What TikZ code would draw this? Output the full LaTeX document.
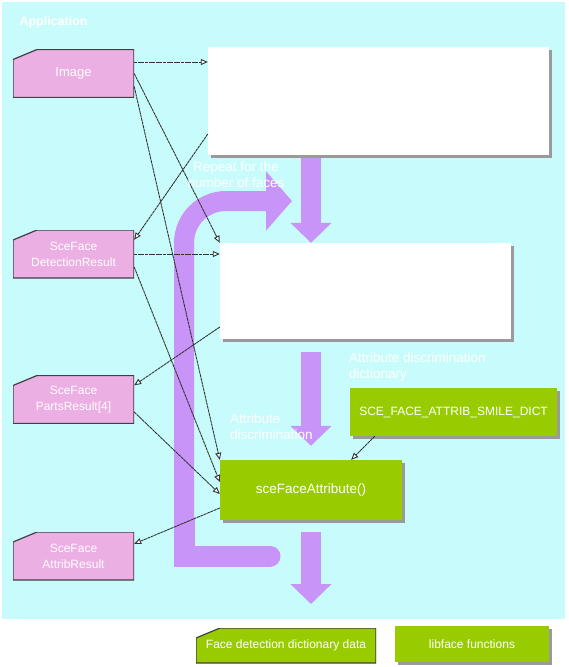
\documentclass[tikz,border=0pt]{standalone}
\usepackage{fontspec}
\setmainfont{Liberation Sans}
\usetikzlibrary{arrows.meta,shadows}

\definecolor{appbg}{HTML}{C8FCFC}
\definecolor{docpink}{HTML}{EBAFE3}
\definecolor{libgreen}{HTML}{99CC00}
\definecolor{flowpurple}{HTML}{C994F7}
\definecolor{shadowgray}{HTML}{9A9A9A}

\tikzset{
  doc/.style={minimum width=121pt, minimum height=48pt, inner sep=0pt, align=center,
    text=white, font=\fontsize{12}{16}\selectfont,
    path picture={\filldraw[fill=#1, draw=black!75, line width=1.2pt]
      (path picture bounding box.south west)
      -- ([yshift=-10pt]path picture bounding box.north west)
      -- ([xshift=24pt]path picture bounding box.north west)
      -- (path picture bounding box.north east)
      -- (path picture bounding box.south east) -- cycle;}},
  doc/.default=docpink,
  panel/.style={fill=white, inner sep=0pt,
    drop shadow={shadow xshift=3pt, shadow yshift=-3pt, fill=shadowgray, opacity=1}},
  lib/.style={fill=libgreen, text=white, inner sep=0pt, font=\fontsize{12}{16}\selectfont,
    drop shadow={shadow xshift=3pt, shadow yshift=-3pt, fill=shadowgray, opacity=1}}
}

\begin{document}
\begin{tikzpicture}[x=1pt, y=-1pt,
  link/.style={draw=black!80, line width=0.9pt, dash pattern=on 3pt off 0.6pt,
    -{Triangle[fill=white, length=7pt, width=6pt]}},
  flow/.style={draw=flowpurple, line width=20pt, -{Triangle[length=20pt, width=40pt]}},
  flowtext/.style={text=white, align=left, inner sep=0pt, font=\fontsize{13.5}{16}\selectfont}]

\useasboundingbox (0,0) rectangle (568,667);
\fill[appbg] (2,2) rectangle (565,619);

\node[anchor=west, text=white, font=\bfseries\fontsize{12.5}{14}\selectfont] (app) at (16,22) {Application};

% data
\node[doc, font=\fontsize{13}{16}\selectfont] (img) at (73.5,73.5) {Image};
\node[doc] (det) at (73.5,254) {SceFace\\DetectionResult};
\node[doc] (parts) at (73.5,399.5) {SceFace\\PartsResult[4]};
\node[doc] (attr) at (73.5,556) {SceFace\\AttribResult};

% stages
\node[panel, minimum width=341pt, minimum height=108pt] (detbox) at (378.5,101) {};
\node[panel, minimum width=291pt, minimum height=96pt] (partbox) at (365.5,291) {};
\node[lib, minimum width=182pt, minimum height=60pt, font=\fontsize{13.5}{16}\selectfont] (func) at (311,490) {sceFaceAttribute()};
\node[lib, minimum width=207pt, minimum height=48pt] (smile) at (453.5,412) {SCE\_FACE\_ATTRIB\_SMILE\_DICT};

% legend
\node[doc=libgreen, minimum width=180pt, minimum height=35pt] (keydict) at (286,645.5) {Face detection dictionary data};
\node[lib, minimum width=154pt, minimum height=36pt] (keyfunc) at (472,644) {libface functions};

% big arrows
\draw[flow] ([yshift=-3pt]detbox.south -| func.north) -- (partbox.north -| func.north);
\draw[flow] ([yshift=-13pt]partbox.south -| func.north) -- ([yshift=14pt]func.north);
\coordinate (done) at (311,604);
\draw[flow] ([yshift=-12pt]func.south) -- (done);

% repeat loop
\draw[flowpurple, line width=21pt, line cap=round] (270,556) -- (184,556) -- (184,520);
\draw[flow, -{Triangle[length=26pt, width=58pt]}, rounded corners=42pt] (184,530) -- (184,201) -- (292,201);

% connectors
\draw[link] ([yshift=11.5pt]img.east) -- ([yshift=11.5pt]img.east -| detbox.west);
\draw[link] (img.east) -- (partbox.north west);
\draw[link] ([yshift=-13pt]img.east) -- (func.north west);
\draw[link] ([yshift=-33pt]detbox.west) -- ([yshift=-10pt]det.north east);
\draw[link] (det.east) -- (det.east -| partbox.west);
\draw[link] ([yshift=-13pt]det.east) -- ([yshift=8pt]func.west);
\draw[link] ([yshift=-36pt]partbox.west) -- ([yshift=-10pt]parts.north east);
\draw[link] ([yshift=-12.5pt]parts.east) -- ([yshift=-4pt]func.west);
\draw[link] ([yshift=-18pt]func.west) -- ([yshift=-12pt]attr.north east);
\draw[link] ([xshift=25pt]smile.south west) -- ([xshift=-51pt]func.north east);

% labels
\node[flowtext, align=center] (repeat) at (236,175) {Repeat for the\\number of faces};
\node[flowtext, anchor=west] (dictlbl) at (349,367) {Attribute discrimination\\dictionary};
\node[flowtext, anchor=west] (attrlbl) at (230,427) {Attribute\\discrimination};

\end{tikzpicture}
\end{document}
